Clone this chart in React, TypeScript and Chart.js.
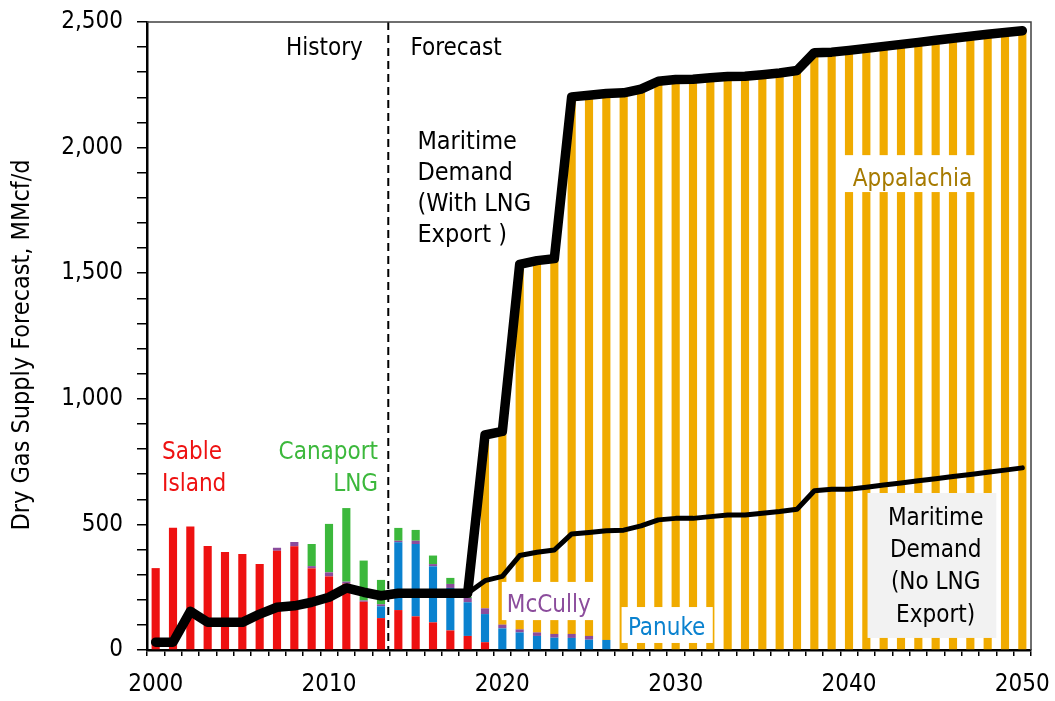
import React, { useEffect, useRef } from 'react';
import { Chart, registerables } from 'chart.js';

Chart.register(...registerables);

const FONT = "'DejaVu Sans Condensed', 'DejaVu Sans', sans-serif";

// Years on the category axis
const years = [
  '2000', '2001', '2002', '2003', '2004', '2005', '2006', '2007', '2008', '2009',
  '2010', '2011', '2012', '2013', '2014', '2015', '2016', '2017', '2018', '2019',
  '2020', '2021', '2022', '2023', '2024', '2025', '2026', '2027', '2028', '2029',
  '2030', '2031', '2032', '2033', '2034', '2035', '2036', '2037', '2038', '2039',
  '2040', '2041', '2042', '2043', '2044', '2045', '2046', '2047', '2048', '2049',
  '2050',
];

// Supply by source, MMcf/d
const sableIsland = [
  326, 487, 492, 414, 390, 382, 342, 395, 413, 325,
  293, 264, 192, 127, 159, 134, 110, 78, 56, 31,
  0, 0, 0, 0, 0, 0, 0, 0, 0, 0,
  0, 0, 0, 0, 0, 0, 0, 0, 0, 0,
  0, 0, 0, 0, 0, 0, 0, 0, 0, 0,
  0,
];

const panuke = [
  0, 0, 0, 0, 0, 0, 0, 0, 0, 0,
  0, 0, 0, 47, 270, 288, 223, 169, 134, 112,
  86, 70, 56, 49, 48, 41, 40, 0, 0, 0,
  0, 0, 0, 0, 0, 0, 0, 0, 0, 0,
  0, 0, 0, 0, 0, 0, 0, 0, 0, 0,
  0,
];

const mcCully = [
  0, 0, 0, 0, 0, 0, 0, 12, 17, 9,
  16, 8, 5, 8, 6, 13, 9, 16, 17, 23,
  15, 12, 14, 15, 16, 15, 0, 0, 0, 0,
  0, 0, 0, 0, 0, 0, 0, 0, 0, 0,
  0, 0, 0, 0, 0, 0, 0, 0, 0, 0,
  0,
];

const canaportLng = [
  0, 0, 0, 0, 0, 0, 0, 0, 0, 88,
  193, 293, 159, 97, 51, 43, 34, 24, 4, 0,
  0, 0, 0, 0, 0, 0, 0, 0, 0, 0,
  0, 0, 0, 0, 0, 0, 0, 0, 0, 0,
  0, 0, 0, 0, 0, 0, 0, 0, 0, 0,
  0,
];

const appalachia = [
  0, 0, 0, 0, 0, 0, 0, 0, 0, 0,
  0, 0, 0, 0, 0, 0, 0, 0, 0, 690,
  769, 1453, 1480, 1494, 2138, 2152, 2175, 2218, 2233, 2264,
  2271, 2272, 2278, 2283, 2284, 2290, 2297, 2307, 2378, 2380,
  2387, 2395, 2403, 2411, 2419, 2427, 2435, 2443, 2451, 2458,
  2465,
];

// Maritime demand, MMcf/d
const demandWithLng = [
  31, 31, 154, 110, 110, 110, 143, 170, 176, 190,
  210, 247, 230, 216, 226, 226, 226, 226, 226, 856,
  870, 1535, 1550, 1558, 2202, 2208, 2215, 2218, 2233, 2264,
  2271, 2272, 2278, 2283, 2284, 2290, 2297, 2307, 2378, 2380,
  2387, 2395, 2403, 2411, 2419, 2427, 2435, 2443, 2451, 2458,
  2465,
];

const demandNoLng = [
  31, 31, 154, 110, 110, 110, 143, 170, 176, 190,
  210, 247, 230, 216, 226, 226, 226, 226, 226, 276,
  293, 376, 389, 398, 462, 468, 475, 477, 494, 518,
  524, 524, 531, 537, 537, 544, 551, 560, 634, 640,
  640, 648, 657, 665, 674, 682, 691, 699, 708, 716,
  725,
];

const Y_TITLE = 'Dry Gas Supply Forecast, MMcf/d';

const COLORS = {
  sable: '#EE1111',
  panuke: '#0A82CF',
  mcCully: '#8B4C9C',
  canaport: '#3CB83C',
  appalachia: '#F0AB00',
  appalachiaText: '#A67A00',
};

// Text callouts, positioned in axis units (category index, MMcf/d)
type Callout = {
  lines: string[];
  x: number;
  y: number;
  align: CanvasTextAlign;
  color: string;
  lineGap: number;
  size: number;
  box?: { x0: number; x1: number; y0: number; y1: number; fill: string };
};

const callouts: Callout[] = [
  { lines: ['History'], x: 11.95, y: 2369, align: 'right', color: '#000', lineGap: 31, size: 24 },
  { lines: ['Forecast'], x: 14.7, y: 2369, align: 'left', color: '#000', lineGap: 31, size: 24 },
  {
    lines: ['Maritime', 'Demand', '(With LNG', 'Export )'],
    x: 15.1, y: 1996, align: 'left', color: '#000', lineGap: 31, size: 25,
  },
  {
    lines: ['Appalachia'], x: 43.66, y: 1847, align: 'center', color: COLORS.appalachiaText, lineGap: 31, size: 24,
    box: { x0: 39.7, x1: 47.7, y0: 1970, y1: 1823, fill: '#FFFFFF' },
  },
  { lines: ['Sable', 'Island'], x: 0.37, y: 759, align: 'left', color: COLORS.sable, lineGap: 31.4, size: 24 },
  { lines: ['Canaport', 'LNG'], x: 12.83, y: 759, align: 'right', color: COLORS.canaport, lineGap: 31.4, size: 24 },
  {
    lines: ['McCully'], x: 22.68, y: 150, align: 'center', color: COLORS.mcCully, lineGap: 31, size: 24,
    box: { x0: 19.97, x1: 25.5, y0: 271, y1: 119, fill: '#FFFFFF' },
  },
  {
    lines: ['Panuke'], x: 29.48, y: 60, align: 'center', color: COLORS.panuke, lineGap: 31, size: 24,
    box: { x0: 26.88, x1: 32.14, y0: 171, y1: 28, fill: '#FFFFFF' },
  },
  {
    lines: ['Maritime', 'Demand', '(No LNG', 'Export)'],
    x: 45.0, y: 498, align: 'center', color: '#000', lineGap: 32.2, size: 24,
    box: { x0: 41.07, x1: 48.5, y0: 625, y1: 48, fill: '#F2F2F2' },
  },
];

// History / forecast divider position on the category axis
const dividerIndex = 13.42;

const calloutPlugin = {
  id: 'callouts',
  afterDatasetsDraw(chart: any) {
    const { ctx, chartArea, scales } = chart;
    const xs = scales.x;
    const ys = scales.y;
    ctx.save();

    // dashed history / forecast divider
    const dx = xs.getPixelForValue(dividerIndex);
    ctx.strokeStyle = '#000';
    ctx.lineWidth = 2;
    ctx.setLineDash([8, 5]);
    ctx.beginPath();
    ctx.moveTo(dx, chartArea.top);
    ctx.lineTo(dx, chartArea.bottom);
    ctx.stroke();
    ctx.setLineDash([]);

    ctx.textBaseline = 'alphabetic';
    for (const c of callouts) {
      if (c.box) {
        const x0 = xs.getPixelForValue(c.box.x0);
        const x1 = xs.getPixelForValue(c.box.x1);
        const y0 = ys.getPixelForValue(c.box.y0);
        const y1 = ys.getPixelForValue(c.box.y1);
        ctx.fillStyle = c.box.fill;
        ctx.fillRect(x0, y0, x1 - x0, y1 - y0);
      }
      const x = xs.getPixelForValue(c.x);
      const y = ys.getPixelForValue(c.y);
      ctx.font = `${c.size}px ${FONT}`;
      ctx.fillStyle = c.color;
      ctx.textAlign = c.align;
      c.lines.forEach((t, i) => ctx.fillText(t, x, y + i * c.lineGap));
    }
    ctx.restore();
  },
  afterDraw(chart: any) {
    const { ctx, chartArea } = chart;
    ctx.save();
    // thin frame on the top and right of the plot
    ctx.strokeStyle = '#404040';
    ctx.lineWidth = 1.5;
    ctx.beginPath();
    ctx.moveTo(chartArea.left, chartArea.top);
    ctx.lineTo(chartArea.right, chartArea.top);
    ctx.lineTo(chartArea.right, chartArea.bottom);
    ctx.stroke();

    // vertical axis title, set a little below the plot's middle
    ctx.translate(22, (chartArea.top + chartArea.bottom) / 2 + 9);
    ctx.rotate(-Math.PI / 2);
    ctx.font = `25px ${FONT}`;
    ctx.fillStyle = '#000';
    ctx.textAlign = 'center';
    ctx.textBaseline = 'middle';
    ctx.fillText(Y_TITLE, 0, 0);
    ctx.restore();
  },
};

export default function App() {
  const canvasRef = useRef<HTMLCanvasElement | null>(null);

  useEffect(() => {
    document.body.style.margin = '0';
    const canvas = canvasRef.current;
    if (!canvas) return;

    const bar = (label: string, data: number[], color: string) => ({
      type: 'bar' as const,
      label,
      data,
      backgroundColor: color,
      borderWidth: 0,
      stack: 'supply',
      order: 0,
      barPercentage: 0.47,
      categoryPercentage: 1,
    });

    const line = (label: string, data: number[], width: number, stack: string) => ({
      type: 'line' as const,
      label,
      data,
      borderColor: '#000',
      backgroundColor: '#000',
      borderWidth: width,
      pointRadius: 0,
      tension: 0,
      fill: false,
      borderJoinStyle: 'round' as const,
      borderCapStyle: 'round' as const,
      stack,
      order: -1,
    });

    const chart = new Chart(canvas, {
      type: 'bar',
      data: {
        labels: years,
        datasets: [
          line('Maritime Demand (With LNG Export)', demandWithLng, 9.5, 'withLng'),
          line('Maritime Demand (No LNG Export)', demandNoLng, 5, 'noLng'),
          bar('Sable Island', sableIsland, COLORS.sable),
          bar('Panuke', panuke, COLORS.panuke),
          bar('McCully', mcCully, COLORS.mcCully),
          bar('Canaport LNG', canaportLng, COLORS.canaport),
          bar('Appalachia', appalachia, COLORS.appalachia),
        ] as any,
      },
      options: {
        responsive: false,
        animation: false,
        devicePixelRatio: 1,
        layout: { padding: { top: 22, right: 24, left: 0, bottom: 0 } },
        plugins: {
          legend: { display: false },
          tooltip: { enabled: false },
        },
        scales: {
          x: {
            type: 'category',
            stacked: true,
            offset: true,
            grid: {
              offset: true,
              drawOnChartArea: false,
              drawTicks: true,
              tickLength: 6,
              color: '#000',
              lineWidth: 1.5,
            },
            border: { display: true, color: '#000', width: 2.5 },
            ticks: {
              autoSkip: false,
              maxRotation: 0,
              minRotation: 0,
              padding: 14,
              color: '#000',
              font: { family: FONT, size: 24 },
              callback: (_v: any, i: number) => (Number(years[i]) % 10 === 0 ? years[i] : ''),
            },
            afterFit: (s: any) => {
              s.height = 51;
              s.paddingLeft = 0;
              s.paddingRight = 0;
            },
          },
          y: {
            type: 'linear',
            stacked: true,
            min: 0,
            max: 2500,
            grid: {
              drawOnChartArea: false,
              drawTicks: true,
              tickLength: 10,
              color: '#000',
              lineWidth: 1.5,
            },
            border: { display: true, color: '#000', width: 2.5 },
            ticks: {
              stepSize: 100,
              autoSkip: false,
              padding: 14,
              color: '#000',
              font: { family: FONT, size: 24 },
              callback: (v: any) => (Number(v) % 500 === 0 ? Number(v).toLocaleString('en-US') : ''),
            },
            afterFit: (s: any) => {
              s.width = 147;
              s.paddingTop = 0;
              s.paddingBottom = 0;
            },
          },
        },
      },
      plugins: [calloutPlugin],
    });

    return () => chart.destroy();
  }, []);

  return (
    <canvas
      ref={canvasRef}
      width={1055}
      height={701}
      style={{ display: 'block', width: 1055, height: 701 }}
    />
  );
}
